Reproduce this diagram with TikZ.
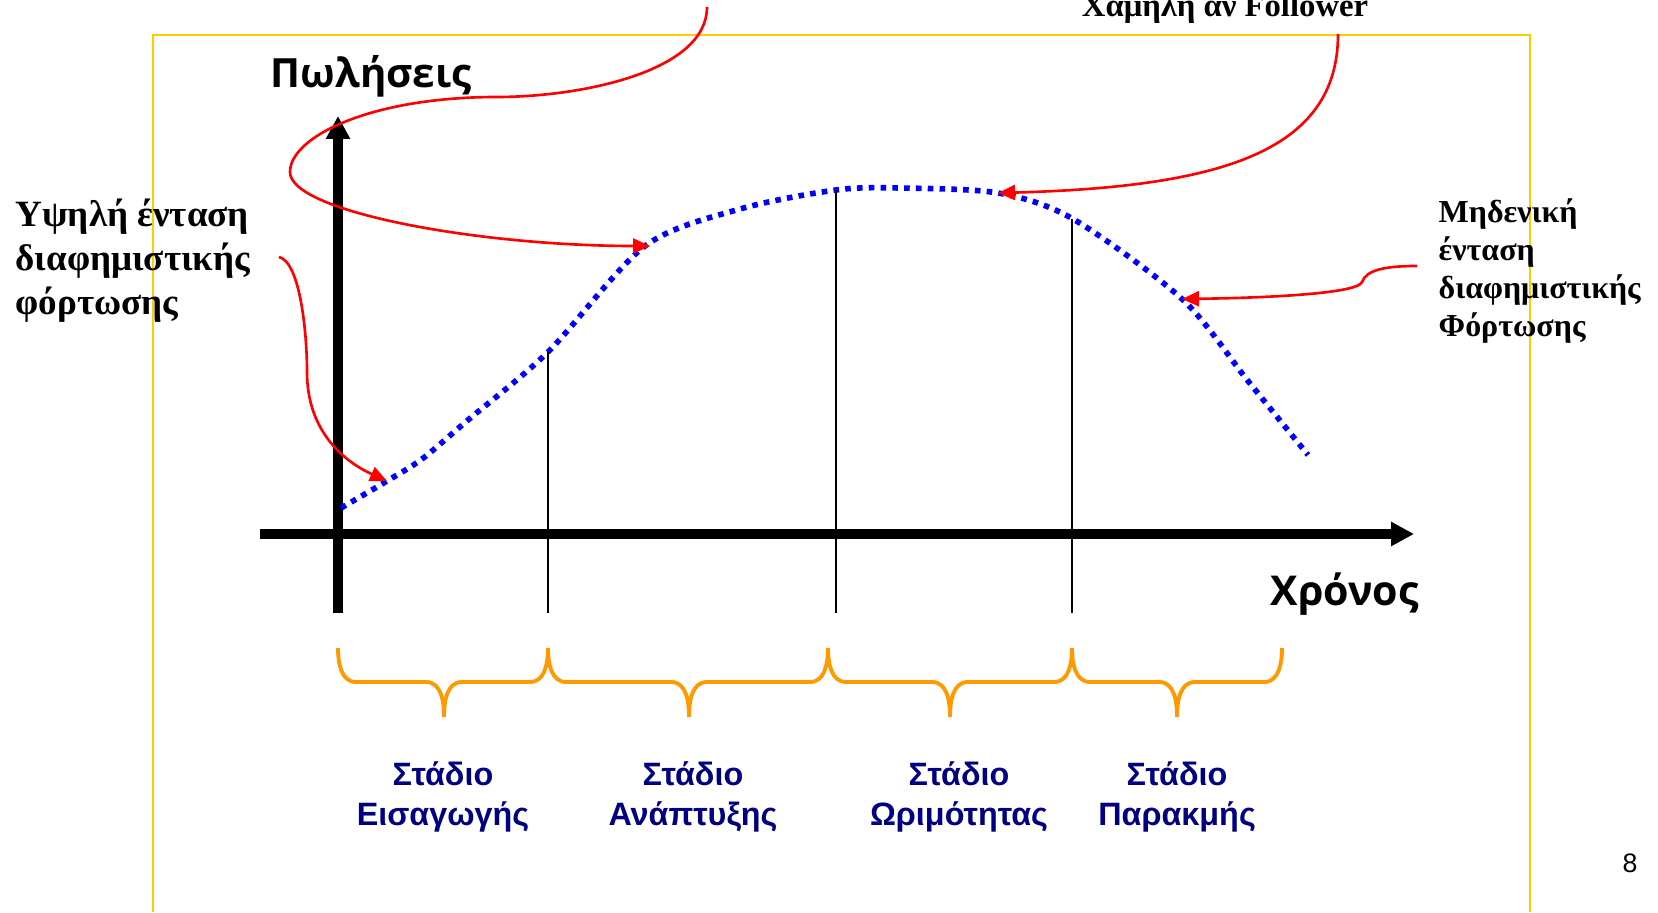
\documentclass[tikz,border=0pt]{standalone}
\usepackage{fontspec}
\setmainfont{Liberation Serif}
\newfontfamily\axisfont{Open Sans}
\newfontfamily\stagefont{Liberation Sans}
\usetikzlibrary{arrows.meta}
\definecolor{framegold}{RGB}{255,204,0}
\definecolor{braceorange}{RGB}{255,153,0}
\definecolor{stagenavy}{RGB}{0,0,128}
\definecolor{curveblue}{RGB}{0,0,255}

\begin{document}
\begin{tikzpicture}[
  callout/.style={red, line width=0.75pt, -{Triangle[length=0.17cm,width=0.15cm]}},
  axisline/.style={line width=2.8pt, -{Triangle[length=0.23cm,width=0.23cm]}},
  stagebrace/.style={braceorange, line width=1.1pt},
  stagelabel/.style={stagenavy, font=\stagefont\bfseries\fontsize{9.2}{11.4}\selectfont, align=center, inner sep=0},
  note/.style={font=\bfseries\fontsize{10.55}{12.5}\selectfont, align=left, inner sep=0}]
\useasboundingbox (0,0) rectangle (16.58,9.12);
\clip (0,0) rectangle (16.58,9.12);
% frame
\draw[framegold, line width=0.7pt] (1.53,0) -- (1.53,8.77) -- (15.30,8.77) -- (15.30,0);
% axes
\coordinate (yBot) at (3.38,2.99);
\coordinate (yTop) at (3.38,7.96);
\coordinate (xLeft) at (2.60,3.78);
\coordinate (xRight) at (14.14,3.78);
\draw[axisline] (yBot) -- (yTop);
\draw[axisline] (xLeft) -- (xRight);
\node[font=\axisfont\bfseries\fontsize{11.45}{14}\selectfont, anchor=base west, inner sep=0] (sales) at (2.70,8.24) {Πωλήσεις};
\node[font=\axisfont\bfseries\fontsize{11.7}{14}\selectfont, anchor=base west, inner sep=0] (time) at (12.70,3.07) {Χρόνος};
% sales curve
\draw[curveblue, line width=0.056cm, dash pattern=on 0.056cm off 0.062cm] plot[smooth] coordinates {(3.41,4.04) (3.87,4.31) (4.22,4.53) (4.68,4.92) (5.48,5.60) (6.45,6.66) (7.40,7.03) (8.36,7.22) (8.99,7.24) (9.98,7.19) (10.73,6.93) (11.82,6.13) (12.48,5.31) (13.08,4.57)};
\coordinate (introPt) at (3.87,4.31);
\coordinate (growthPt) at (6.50,6.66);
\coordinate (peakPt) at (9.98,7.19);
\coordinate (declinePt) at (11.82,6.13);
% stage boundaries
\coordinate (bound1) at (5.48,5.60);
\coordinate (bound2) at (8.36,7.22);
\coordinate (bound3) at (10.72,6.93);
\draw[line width=0.45pt] (bound1) -- (bound1 |- yBot);
\draw[line width=0.45pt] (bound2) -- (bound2 |- yBot);
\draw[line width=0.45pt] (bound3) -- (bound3 |- yBot);
% braces
\draw[stagebrace] (3.38,2.64) to[out=-90,in=180] (3.56,2.30) -- (4.26,2.30) to[out=0,in=90] (4.44,1.95) to[out=90,in=180] (4.62,2.30) -- (5.30,2.30) to[out=0,in=-90] (5.48,2.64);
\draw[stagebrace] (5.48,2.64) to[out=-90,in=180] (5.66,2.30) -- (6.71,2.30) to[out=0,in=90] (6.89,1.95) to[out=90,in=180] (7.07,2.30) -- (8.10,2.30) to[out=0,in=-90] (8.28,2.64);
\draw[stagebrace] (8.28,2.64) to[out=-90,in=180] (8.46,2.30) -- (9.32,2.30) to[out=0,in=90] (9.50,1.95) to[out=90,in=180] (9.68,2.30) -- (10.54,2.30) to[out=0,in=-90] (10.72,2.64);
\draw[stagebrace] (10.72,2.64) to[out=-90,in=180] (10.90,2.30) -- (11.59,2.30) to[out=0,in=90] (11.77,1.95) to[out=90,in=180] (11.95,2.30) -- (12.64,2.30) to[out=0,in=-90] (12.82,2.64);
% stage names
\node[stagelabel] (intro) at (4.43,1.15) {Στάδιο\\Εισαγωγής};
\node[stagelabel] (growth) at (6.93,1.15) {Στάδιο\\Ανάπτυξης};
\node[stagelabel] (maturity) at (9.59,1.15) {Στάδιο\\Ωριμότητας};
\node[stagelabel] (decline) at (11.77,1.15) {Στάδιο\\Παρακμής};
% advertising notes
\node[note, anchor=north west] (highAd) at (0.15,7.14) {Υψηλή ένταση\\διαφημιστικής\\φόρτωσης};
\node[note, font=\bfseries\fontsize{9.1}{10.8}\selectfont, anchor=north west] (zeroAd) at (14.38,7.14) {Μηδενική\\ένταση\\διαφημιστικής\\Φόρτωσης};
\node[font=\bfseries\fontsize{9.3}{11}\selectfont, anchor=base, inner sep=0] (follower) at (12.25,8.95) {Χαμηλη αν Follower};
\coordinate (highStart) at (2.79,6.55);
\coordinate (topStart) at (7.07,9.05);
\coordinate (followerStart) at (13.38,8.78);
\coordinate (zeroStart) at (14.17,6.46);
\draw[callout] (highStart) .. controls (3.0,6.5) and (3.07,5.8) .. (3.07,5.4) .. controls (3.07,4.8) and (3.45,4.5) .. (introPt);
\draw[callout] (topStart) .. controls (7.07,8.4) and (5.8,8.15) .. (4.97,8.15) .. controls (3.7,8.15) and (2.9,7.75) .. (2.9,7.4) .. controls (2.9,7.0) and (4.8,6.66) .. (growthPt);
\draw[callout] (followerStart) .. controls (13.38,7.6) and (12.2,7.25) .. (peakPt);
\draw[callout] (zeroStart) .. controls (13.85,6.46) and (13.66,6.42) .. (13.62,6.30) .. controls (13.58,6.18) and (12.6,6.14) .. (declinePt);
% page number
\node[font=\stagefont\fontsize{7.6}{9}\selectfont] (page) at (16.30,0.49) {8};
\end{tikzpicture}
\end{document}
